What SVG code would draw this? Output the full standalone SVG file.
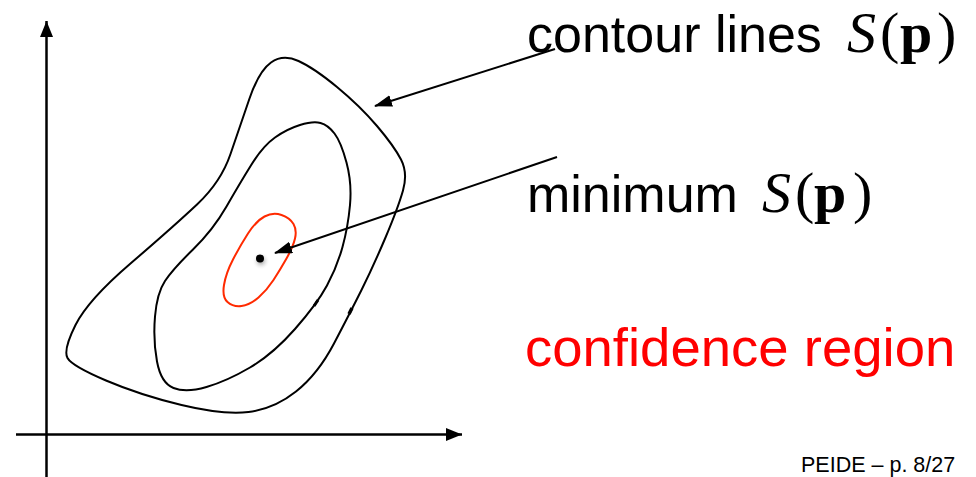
<svg xmlns="http://www.w3.org/2000/svg" width="976" height="477" viewBox="0 0 976 477">
<style>
.ax{stroke:#000;stroke-width:2.5;fill:none}
.ct{stroke:#000;stroke-width:2;fill:none}
.cr{stroke:#ff2a00;stroke-width:2;fill:none}
.ar{stroke:#000;stroke-width:2;fill:none}
.lbl{font-family:"Liberation Sans",Arial,sans-serif;font-size:52px;fill:#000}
.math{font-family:"Liberation Serif","Times New Roman",serif;font-size:58px;fill:#000}
</style>
<defs>
<marker id="ah" markerUnits="userSpaceOnUse" markerWidth="20" markerHeight="14" refX="17" refY="6" orient="auto">
<path d="M0,0 L18,6 L0,12 Z" fill="#000"/>
</marker>
<marker id="axh" markerUnits="userSpaceOnUse" markerWidth="20" markerHeight="14" refX="16" refY="6.5" orient="auto">
<path d="M0,0 L16,6.5 L0,13 Z" fill="#000"/>
</marker>
<radialGradient id="sh">
<stop offset="0" stop-color="#777" stop-opacity="0.8"/>
<stop offset="1" stop-color="#fff" stop-opacity="0"/>
</radialGradient>
</defs>
<rect width="976" height="477" fill="#fff"/>
<g id="axes">
<line class="ax" x1="46.5" y1="477" x2="46.5" y2="21" marker-end="url(#axh)"/>
<line class="ax" x1="16" y1="434.5" x2="462" y2="434.5" marker-end="url(#axh)"/>
</g>
<g id="outer-contour">
<path class="ct" d="M 298.5,61 Q 314,68 337,87 Q 360,106 377,126 Q 394,146 401,159.5 Q 408,173 403,190.5 Q 398,208 385.5,237.5 Q 373,267 361.5,290 Q 350,313 334,343.5 Q 318,374 296,391.5 Q 274,409 248.5,412 Q 223,415 181.5,405 Q 140,395 106,380.5 Q 72,366 67.5,358 Q 63,350 75.5,325 Q 88,300 130.5,263.5 Q 173,227 197,204.5 Q 221,182 230.5,154 Q 240,126 249.5,98.5 Q 259,71 271,62.5 Q 283,54 298.5,61 Z"/>
<line x1="349" y1="314" x2="352" y2="308" stroke="#000" stroke-width="3.5"/>
</g>
<g id="middle-contour">
<path class="ct" d="M 320.5,123 Q 328,125 334.5,133.5 Q 341,142 346.5,162.5 Q 352,183 350,205 Q 348,227 342.5,247 Q 337,267 327,285.5 Q 317,304 295,329 Q 273,354 250,367.5 Q 227,381 206.5,387 Q 186,393 173.5,388 Q 161,383 157,361.5 Q 153,340 155,316.5 Q 157,293 165,281 Q 173,269 193,249.5 Q 213,230 226.5,206.5 Q 240,183 251.5,164.5 Q 263,146 275,137.5 Q 287,129 300,125 Q 313,121 320.5,123 Z"/>
<line x1="314" y1="306" x2="318" y2="300" stroke="#000" stroke-width="3"/>
</g>
<g id="confidence-contour">
<path class="cr" d="M 281.5,215 Q 290,218 293.5,224 Q 297,230 295,238.5 Q 293,247 286.5,258.5 Q 280,270 273.5,280 Q 267,290 258.5,297.5 Q 250,305 241.5,306 Q 233,307 227.5,302 Q 222,297 224,285 Q 226,273 233,259.5 Q 240,246 248,233.5 Q 256,221 264.5,216.5 Q 273,212 281.5,215 Z"/>
</g>
<g id="minimum">
<circle cx="261" cy="261" r="9" fill="url(#sh)"/>
<circle cx="260" cy="258.5" r="4" fill="#000"/>
</g>
<g id="connectors">
<line class="ar" x1="555" y1="49" x2="375" y2="106" marker-end="url(#ah)"/>
<line class="ar" x1="557" y1="157" x2="275" y2="253" marker-end="url(#ah)"/>
</g>
<g id="label-contour">
<text class="lbl" x="527" y="52">contour lines</text>
<text class="math" y="52"><tspan x="847" font-style="italic">S</tspan><tspan x="880">(</tspan><tspan x="900" font-weight="bold">p</tspan><tspan x="937">)</tspan></text>
</g>
<g id="label-minimum">
<text class="lbl" x="527" y="212">minimum</text>
<text class="math" y="212"><tspan x="762" font-style="italic">S</tspan><tspan x="795">(</tspan><tspan x="814" font-weight="bold">p</tspan><tspan x="853">)</tspan></text>
</g>
<g id="label-confidence">
<text class="lbl" x="525" y="366" style="fill:#ff0000;font-size:54.5px">confidence region</text>
</g>
<g id="footer">
<text x="801" y="472" style="font-family:'Liberation Sans',Arial,sans-serif;font-size:21.5px;fill:#000">PEIDE – p. 8/27</text>
</g>
</svg>
